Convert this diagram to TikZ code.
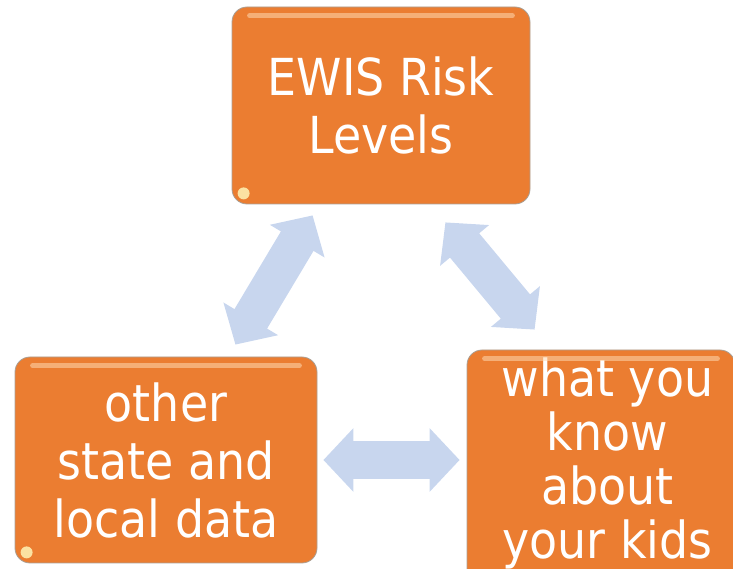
\documentclass[tikz,border=0pt]{standalone}
\usepackage{fontspec}
\setmainfont{DejaVu Sans}[FakeStretch=0.9]
\usetikzlibrary{arrows.meta,positioning}
\definecolor{boxorange}{RGB}{235,125,49}
\definecolor{boxedge}{RGB}{170,160,150}
\definecolor{arrblue}{RGB}{200,214,238}

\begin{document}
\begin{tikzpicture}[
  x=1pt, y=1pt,
  box/.style={draw=boxedge, line width=0.8pt, fill=boxorange, rounded corners=15pt,
              inner sep=0pt, align=center, text=white,
              font=\fontsize{51}{58}\selectfont},
  hl/.style={line width=5pt, line cap=round, draw=orange!30!white, opacity=0.55},
  spot/.style={fill=yellow!25!white, opacity=0.8},
  arr/.style={line width=38pt, draw=arrblue,
              {Triangle[width=62pt,length=30pt]}-{Triangle[width=62pt,length=30pt]}}
]
\useasboundingbox (0,0) rectangle (733,569);
\clip (0,0) rectangle (733,569);

\node[box, minimum width=298pt, minimum height=197pt] (risk) at (381,463.5) {EWIS Risk\\Levels};
\node[box, minimum width=302pt, minimum height=206pt] (other) at (166,109) {other\\state and\\local data};
\node[box, minimum width=268pt, minimum height=240pt] (know) at (601,99) {};
\node[text=white, align=center, inner sep=0pt, font=\fontsize{51}{54}\selectfont]
  (knowtxt) at (607.5,106) {what you\\know\\about\\your kids};

\foreach \n in {risk,other,know} {
  \draw[hl] ([xshift=18pt,yshift=-9pt]\n.north west) -- ([xshift=-18pt,yshift=-9pt]\n.north east);
  \fill[spot] ([xshift=12pt,yshift=11pt]\n.south west) circle (6pt);
}

\draw[arr] ([xshift=-82pt,yshift=12pt]other.north east) -- ([xshift=81pt,yshift=-11pt]risk.south west);
\draw[arr] ([xshift=-85pt,yshift=-18pt]risk.south east) -- ([xshift=68pt,yshift=20pt]know.north west);
\draw[arr, shorten <=6pt, shorten >=7pt] (other.east) -- (other.east -| know.west);
\end{tikzpicture}
\end{document}
